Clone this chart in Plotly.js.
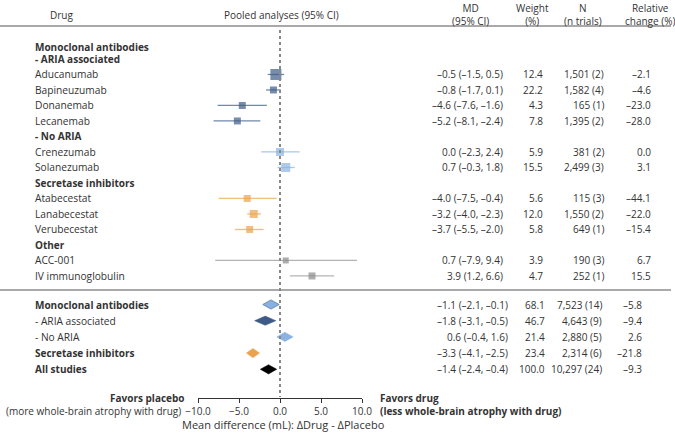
<!DOCTYPE html>
<html>
<head>
<meta charset="utf-8">
<script src="https://cdn.plot.ly/plotly-3.0.1.min.js"></script>
<style>html,body{margin:0;padding:0;background:#fff;}#chart{width:675px;height:435px;}</style>
</head>
<body>
<div id="chart"></div>
<script>
// ---- data ----
const drugs = ['Aducanumab','Bapineuzumab','Donanemab','Lecanemab','Crenezumab','Solanezumab','Atabecestat','Lanabecestat','Verubecestat','ACC-001','IV immunoglobulin'];
const groups = ['aria','aria','aria','aria','noaria','noaria','secretase','secretase','secretase','other','other'];
const md = [-0.5,-0.8,-4.6,-5.2,0.0,0.7,-4.0,-3.2,-3.7,0.7,3.9];
const ciLo = [-1.5,-1.7,-7.6,-8.1,-2.3,-0.3,-7.5,-4.0,-5.5,-7.9,1.2];
const ciHi = [0.5,0.1,-1.6,-2.4,2.4,1.8,-0.4,-2.3,-2.0,9.4,6.6];
const weight = [12.4,22.2,4.3,7.8,5.9,15.5,5.6,12.0,5.8,3.9,4.7];
const nPatients = [1501,1582,165,1395,381,2499,115,1550,649,190,252];
const nTrials = [2,4,1,2,2,3,3,2,1,3,1];
const relChange = [-2.1,-4.6,-23.0,-28.0,0.0,3.1,-44.1,-22.0,-15.4,6.7,15.5];

const sumLabels = ['Monoclonal antibodies','- ARIA associated','- No ARIA','Secretase inhibitors','All studies'];
const sumBold = [true,false,false,true,true];
const sumGroups = ['mab','aria','noaria','secretase','all'];
const sumMd = [-1.1,-1.8,0.6,-3.3,-1.4];
const sumLo = [-2.1,-3.1,-0.4,-4.1,-2.4];
const sumHi = [-0.1,-0.5,1.6,-2.5,-0.4];
const sumWeight = [68.1,46.7,21.4,23.4,100.0];
const sumN = [7523,4643,2880,2314,10297];
const sumTrials = [14,9,5,6,24];
const sumRel = [-5.8,-9.4,2.6,-21.8,-9.3];

const xTicks = [-10,-5,0,5,10];

// ---- styles ----
const boxSize = [11,7,7,7,8,9,7,8,7,6,7];
const colors = {
  aria:{box:'#3e5b87', line:'#7189ad'},
  noaria:{box:'#8bb3e2', line:'#a9c7ec'},
  secretase:{box:'#eaa24f', line:'#f1bd80'},
  other:{box:'#8a8a8a', line:'#b3b3b3'},
  mab:{box:'#8ab0df', line:'#5a7eae'},
  all:{box:'#000000', line:'#000000'}
};
const FONT = 'Open Sans, Noto Sans, sans-serif';
const TXT = '#333333';
const FS = 10;      // table values, headers, ticks
const FSL = 10.2;   // drug labels

// layout geometry helpers (pixels -> axes)
const L = 198, R = 313, T = 0, B = 37, W = 675, H = 435;
const PW = W - L - R, PH = H - T - B;
const ROW0 = 74, ROWH = 15.5;
const k2 = p => (p - ROW0) / ROWH;         // pixel y -> row units
const xp = px => (px - L) / PW;            // pixel x -> paper
const yp = p => 1 - (p - T) / PH;          // pixel y -> paper

// ---- row positions ----
const headers = {0:['Monoclonal antibodies','- ARIA associated'], 4:['- No ARIA'], 6:['Secretase inhibitors'], 9:['Other']};
const rowK = []; const headerRows = [];
let k = -1.75;
for (let i = 0; i < drugs.length; i++) {
  if (headers[i]) {
    headers[i].forEach((h, j) => {
      headerRows.push({text:h, k:k});
      k += (i === 0 && j === 0) ? 0.78 : 1;
    });
  }
  rowK.push(k); k += 1;
}
const sumK = sumLabels.map((_, j) => k2(304.5) + j * (16.2 / ROWH));

const fmt = v => (v < 0 ? '\u2013' : '') + Math.abs(v).toFixed(1);
const fmtN = v => v.toLocaleString('en-US');

// ---- traces ----
const traces = [];
['aria','noaria','secretase','other'].forEach(g => {
  const xs = [], ys = [], mx = [], my = [], ms = [];
  drugs.forEach((d, i) => {
    if (groups[i] !== g) return;
    xs.push(ciLo[i], ciHi[i], null); ys.push(rowK[i], rowK[i], null);
    mx.push(md[i]); my.push(rowK[i]); ms.push(boxSize[i]);
  });
  traces.push({type:'scatter', mode:'lines', x:xs, y:ys, line:{color:colors[g].line, width:1.3}, hoverinfo:'skip', showlegend:false});
  traces.push({type:'scatter', mode:'markers', x:mx, y:my, marker:{symbol:'square', size:ms, color:colors[g].box, line:{width:0}}, showlegend:false});
});
const dh = 4.6 / ROWH;
sumLabels.forEach((lab, j) => {
  const g = sumGroups[j];
  const y = sumK[j];
  traces.push({type:'scatter', mode:'lines', fill:'toself',
    x:[sumLo[j], sumMd[j], sumHi[j], sumMd[j], sumLo[j]],
    y:[y, y - dh, y, y + dh, y],
    fillcolor: colors[g].box,
    line:{color: g === 'mab' ? colors.mab.line : colors[g].box, width: g === 'mab' ? 0.8 : 0.5},
    hoverinfo:'skip', showlegend:false});
});

// ---- annotations ----
const ann = [];
const A = (text, x, y, xanchor, size) => ann.push({text, x, y, xref:'paper', yref:'y', xanchor, yanchor:'middle', showarrow:false, font:{family:FONT, size:size||FS, color:TXT}});
// headers
const hdr = [['Drug',61],['Pooled analyses (95% CI)',281],['MD<br>(95% CI)',470],['Weight<br>(%)',532],['N<br>(n trials)',583],['Relative<br>change (%)',650]];
hdr.forEach(h => ann.push({text:h[0], x:xp(h[1]), y:yp(h[0].includes('<br>') ? 14.5 : 15.5), xref:'paper', yref:'paper', xanchor:'center', yanchor:'middle', showarrow:false, align:'center', font:{family:FONT, size:FS, color:TXT}}));
headerRows.forEach(h => A('<b>' + h.text + '</b>', xp(33), h.k, 'left', FS));
drugs.forEach((d, i) => {
  A(d, xp(33), rowK[i], 'left', FSL);
  A(fmt(md[i]) + ' (' + fmt(ciLo[i]) + ', ' + fmt(ciHi[i]) + ')', xp(505), rowK[i], 'right');
  A(weight[i].toFixed(1), xp(545), rowK[i], 'right');
  A(fmtN(nPatients[i]) + ' (' + nTrials[i] + ')', xp(606), rowK[i], 'right');
  A(fmt(relChange[i]), xp(653), rowK[i], 'right');
});
sumLabels.forEach((s, j) => {
  A(sumBold[j] ? '<b>' + s + '</b>' : s, xp(33), sumK[j], 'left', sumBold[j] ? FS : FSL);
  A(fmt(sumMd[j]) + ' (' + fmt(sumLo[j]) + ', ' + fmt(sumHi[j]) + ')', xp(510), sumK[j], 'right');
  A(sumWeight[j].toFixed(1), xp(547), sumK[j], 'right');
  A(fmtN(sumN[j]) + ' (' + sumTrials[j] + ')', xp(604), sumK[j], 'right');
  A(fmt(sumRel[j]), xp(644), sumK[j], 'right');
});
const P = (text, px, py, xanchor, size) => ann.push({text, x:xp(px), y:yp(py), xref:'paper', yref:'paper', xanchor, yanchor:'middle', showarrow:false, font:{family:FONT, size:size||FS, color:TXT}});
P('<b>Favors placebo</b>', 187, 398, 'right');
P('(more whole-brain atrophy with drug)', 183, 410.5, 'right');
P('<b>Favors drug</b>', 378, 398, 'left');
P('<b>(less whole-brain atrophy with drug)</b>', 378, 410.5, 'left');
P('Mean difference (mL): \u0394Drug - \u0394Placebo', 283, 424, 'center', 11);

const shapes = [
  {type:'line', xref:'paper', yref:'paper', x0:xp(0), x1:xp(671), y0:yp(26), y1:yp(26), line:{color:'#555', width:1.2}},
  {type:'line', xref:'paper', yref:'paper', x0:xp(0), x1:xp(671), y0:yp(290), y1:yp(290), line:{color:'#555', width:1.2}},
  {type:'line', xref:'x', yref:'paper', x0:0, x1:0, y0:yp(30), y1:yp(397), line:{color:'#888', width:2, dash:'dot'}}
];

const layout = {
  width:W, height:H, margin:{l:L, r:R, t:T, b:B, pad:0},
  paper_bgcolor:'#fff', plot_bgcolor:'rgba(0,0,0,0)', showlegend:false,
  xaxis:{range:[-10,10], tickvals:xTicks, tickformat:'.1f', showline:true, linecolor:'#333', linewidth:1, ticks:'outside', ticklen:4, tickcolor:'#333', showgrid:false, zeroline:false, tickfont:{family:FONT, size:FS, color:TXT}, fixedrange:true},
  yaxis:{range:[k2(H - B), k2(T)], visible:false, showgrid:false, zeroline:false, fixedrange:true},
  annotations:ann, shapes:shapes, font:{family:FONT}
};
Plotly.newPlot('chart', traces, layout, {displayModeBar:false, staticPlot:true});
</script>
</body>
</html>
